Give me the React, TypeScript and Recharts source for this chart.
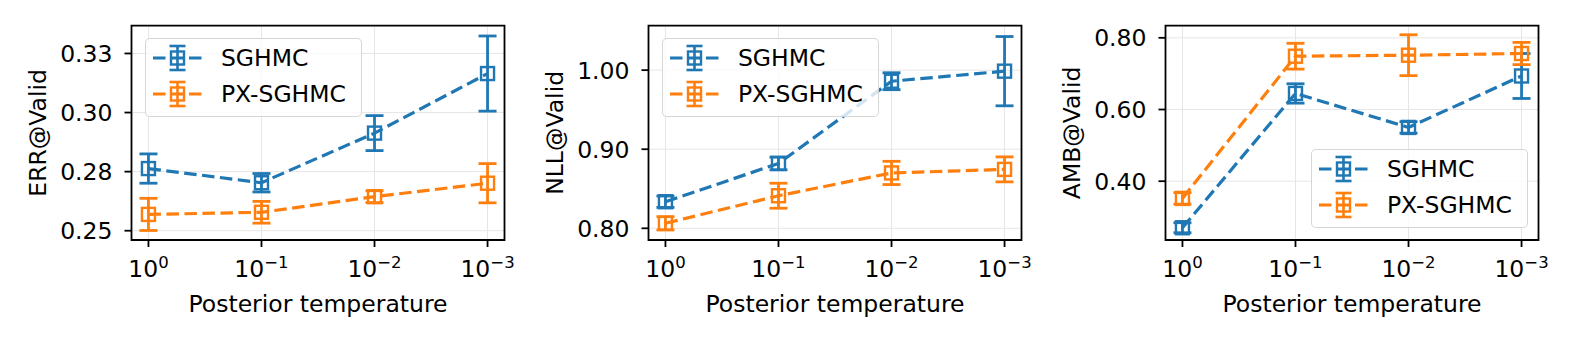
import React from 'react';
import { LineChart, Line, XAxis, YAxis, CartesianGrid, ErrorBar, Legend, ReferenceArea } from 'recharts';

const FONT = '"DejaVu Sans", sans-serif';
const BLUE = '#1f77b4';
const ORANGE = '#ff7f0e';

// categories: posterior temperature 10^0 ... 10^-3 (log axis, reversed)
const xPositions = [0, 1, 2, 3];
const xTickBase = '10';
const xTickExponents = ['0', '\u22121', '\u22122', '\u22123'];
const xLabel = 'Posterior temperature';
const seriesNames = ['SGHMC', 'PX-SGHMC'];
const seriesColors = [BLUE, ORANGE];

// ERR@Valid
const errSghmc = [0.2763, 0.2703, 0.2913, 0.3165];
const errSghmcStd = [0.0062, 0.0039, 0.0074, 0.0159];
const errPx = [0.2569, 0.2578, 0.2644, 0.2701];
const errPxStd = [0.0068, 0.0046, 0.0025, 0.0083];
const errTicks = [0.25, 0.275, 0.3, 0.325];
const errTickLabels = ['0.25', '0.28', '0.30', '0.33'];
const errDomain = [0.24607, 0.33675];

// NLL@Valid
const nllSghmc = [0.8336, 0.882, 0.986, 0.9987];
const nllSghmcStd = [0.0072, 0.008, 0.0107, 0.0438];
const nllPx = [0.8063, 0.8412, 0.87, 0.8745];
const nllPxStd = [0.0084, 0.0158, 0.0147, 0.0158];
const nllTicks = [0.8, 0.9, 1.0];
const nllTickLabels = ['0.80', '0.90', '1.00'];
const nllDomain = [0.7852, 1.0562];

// AMB@Valid
const ambSghmc = [0.2702, 0.6448, 0.55, 0.6935];
const ambSghmcStd = [0.014, 0.027, 0.016, 0.0627];
const ambPx = [0.3521, 0.7487, 0.7515, 0.7562];
const ambPxStd = [0.016, 0.036, 0.057, 0.031];
const ambTicks = [0.4, 0.6, 0.8];
const ambTickLabels = ['0.40', '0.60', '0.80'];
const ambDomain = [0.236, 0.8338];

const X_DOMAIN = [-0.15, 3.15];

// geometry of each panel (chart-local)
const CH_W = 516;
const CH_H = 351;
const Y_AXIS_W = 131.5;
const PLOT_TOP = 25.7;
const PLOT_BOTTOM = 240;
const PLOT_W = 373;
const FS = 23.5;

const toRows = (vals: number[], errs: number[]) =>
  xPositions.map((x, i) => ({ x, y: vals[i], e: errs[i] }));

const squareDot = (color: string) => (props: any) => {
  const { cx, cy, index } = props;
  if (cx == null || cy == null) return <g key={`n${index}`} />;
  return (
    <rect key={`d${index}`} x={cx - 6.5} y={cy - 6.5} width={13} height={13}
      fill="none" stroke={color} strokeWidth={2.4} />
  );
};

const LegendIcon = ({ color }: { color: string }) => (
  <svg width={66} height={36} style={{ display: 'block', flex: 'none' }}>
    <line x1={9} y1={18} x2={58} y2={18} stroke={color} strokeWidth={3.2} strokeDasharray="12.5 5.5" />
    <line x1={33.5} y1={6} x2={33.5} y2={30} stroke={color} strokeWidth={2.6} />
    <line x1={25.5} y1={6} x2={41.5} y2={6} stroke={color} strokeWidth={2.6} />
    <line x1={25.5} y1={30} x2={41.5} y2={30} stroke={color} strokeWidth={2.6} />
    <rect x={27} y={11.5} width={13} height={13} fill="none" stroke={color} strokeWidth={2.4} />
  </svg>
);

const LegendBox = () => (
  <div style={{
    width: 217, height: 79, boxSizing: 'border-box', position: 'relative',
    border: '1.6px solid rgba(204,204,204,0.8)', borderRadius: 5,
    background: 'rgba(255,255,255,0.8)', fontFamily: FONT, fontSize: FS, color: '#000',
  }}>
    {seriesNames.map((n, i) => (
      <div key={n} style={{ position: 'absolute', left: -1.6, top: 1 + i * 36, height: 36, display: 'flex', alignItems: 'center' }}>
        <LegendIcon color={seriesColors[i]} />
        <span style={{ marginLeft: 11, lineHeight: '36px', whiteSpace: 'nowrap' }}>{n}</span>
      </div>
    ))}
  </div>
);

type PanelProps = {
  left: number;
  yLabel: string;
  a: number[]; aErr: number[];
  b: number[]; bErr: number[];
  ticks: number[]; tickLabels: string[];
  domain: number[];
  legendPos: 'tl' | 'br';
};

const Panel = ({ left, yLabel, a, aErr, b, bErr, ticks, tickLabels, domain, legendPos }: PanelProps) => {
  const rowsA = toRows(a, aErr);
  const rowsB = toRows(b, bErr);
  const legendStyle = legendPos === 'tl'
    ? { left: Y_AXIS_W + 13, top: PLOT_TOP + 12.6, width: 217, height: 79 }
    : { left: Y_AXIS_W + PLOT_W - 11 - 217, top: PLOT_BOTTOM - 11.7 - 79, width: 217, height: 79 };

  const renderYTick = (p: any) => {
    const i = ticks.indexOf(p.payload.value);
    return (
      <text key={`yt${p.index}`} x={p.x} y={p.y + 8.6} textAnchor="end" fontFamily={FONT} fontSize={FS} fill="#000">
        {tickLabels[i]}
      </text>
    );
  };
  const renderXTick = (p: any) => {
    const i = xPositions.indexOf(p.payload.value);
    return (
      <text key={`xt${p.index}`} x={p.x} y={p.y + 27.7} textAnchor="middle" fontFamily={FONT} fontSize={FS} fill="#000">
        <tspan>{xTickBase}</tspan>
        <tspan dy={-8.4} fontSize={16.5}>{xTickExponents[i]}</tspan>
      </text>
    );
  };
  const cy = (PLOT_TOP + PLOT_BOTTOM) / 2;
  const yLabelX = Y_AXIS_W - 85.5;
  const renderYLabel = () => (
    <text x={yLabelX} y={cy} transform={`rotate(-90 ${yLabelX} ${cy})`} textAnchor="middle"
      fontFamily={FONT} fontSize={FS} fill="#000">{yLabel}</text>
  );
  const renderXLabel = () => (
    <text x={Y_AXIS_W + PLOT_W / 2} y={PLOT_BOTTOM + 71.7} textAnchor="middle"
      fontFamily={FONT} fontSize={FS} fill="#000">{xLabel}</text>
  );

  return (
    <div style={{ position: 'absolute', left, top: 0, width: CH_W, height: CH_H }}>
      <LineChart width={CH_W} height={CH_H}
        margin={{ top: PLOT_TOP, right: CH_W - Y_AXIS_W - PLOT_W, bottom: 0, left: 0 }}>
        <CartesianGrid stroke="#e6e6e6" strokeWidth={1} />
        <XAxis dataKey="x" type="number" domain={X_DOMAIN} ticks={xPositions} allowDataOverflow
          interval={0} axisLine={false} tickLine={{ stroke: '#000', strokeWidth: 1.8 }}
          tickSize={7} tickMargin={2} height={CH_H - PLOT_BOTTOM} tick={renderXTick} label={renderXLabel} />
        <YAxis type="number" domain={domain} ticks={ticks} allowDataOverflow interval={0}
          axisLine={false} tickLine={{ stroke: '#000', strokeWidth: 1.8 }}
          tickSize={7} tickMargin={12} width={Y_AXIS_W} tick={renderYTick} label={renderYLabel} />
        <ReferenceArea x1={X_DOMAIN[0]} x2={X_DOMAIN[1]} y1={domain[0]} y2={domain[1]}
          fill="none" fillOpacity={0} stroke="#000" strokeWidth={1.8} ifOverflow="visible" />
        <Line data={rowsA} dataKey="y" name={seriesNames[0]} type="linear" stroke={BLUE} strokeWidth={3.2}
          strokeDasharray="12.5 5.5" dot={squareDot(BLUE)} activeDot={false} isAnimationActive={false}>
          <ErrorBar dataKey="e" direction="y" width={9} stroke={BLUE} strokeWidth={2.8} isAnimationActive={false} />
        </Line>
        <Line data={rowsB} dataKey="y" name={seriesNames[1]} type="linear" stroke={ORANGE} strokeWidth={3.2}
          strokeDasharray="12.5 5.5" dot={squareDot(ORANGE)} activeDot={false} isAnimationActive={false}>
          <ErrorBar dataKey="e" direction="y" width={9} stroke={ORANGE} strokeWidth={2.8} isAnimationActive={false} />
        </Line>
        <Legend layout="vertical" align="center" verticalAlign="middle" content={() => <LegendBox />}
          wrapperStyle={{ position: 'absolute', ...legendStyle, margin: 0, padding: 0 }} />
      </LineChart>
    </div>
  );
};

export default function App() {
  return (
    <div style={{ position: 'absolute', left: 0, top: 0, width: 1578, height: 351, background: '#fff', overflow: 'hidden' }}>
      <Panel left={0} yLabel="ERR@Valid" a={errSghmc} aErr={errSghmcStd} b={errPx} bErr={errPxStd}
        ticks={errTicks} tickLabels={errTickLabels} domain={errDomain} legendPos="tl" />
      <Panel left={517} yLabel="NLL@Valid" a={nllSghmc} aErr={nllSghmcStd} b={nllPx} bErr={nllPxStd}
        ticks={nllTicks} tickLabels={nllTickLabels} domain={nllDomain} legendPos="tl" />
      <Panel left={1034} yLabel="AMB@Valid" a={ambSghmc} aErr={ambSghmcStd} b={ambPx} bErr={ambPxStd}
        ticks={ambTicks} tickLabels={ambTickLabels} domain={ambDomain} legendPos="br" />
    </div>
  );
}
